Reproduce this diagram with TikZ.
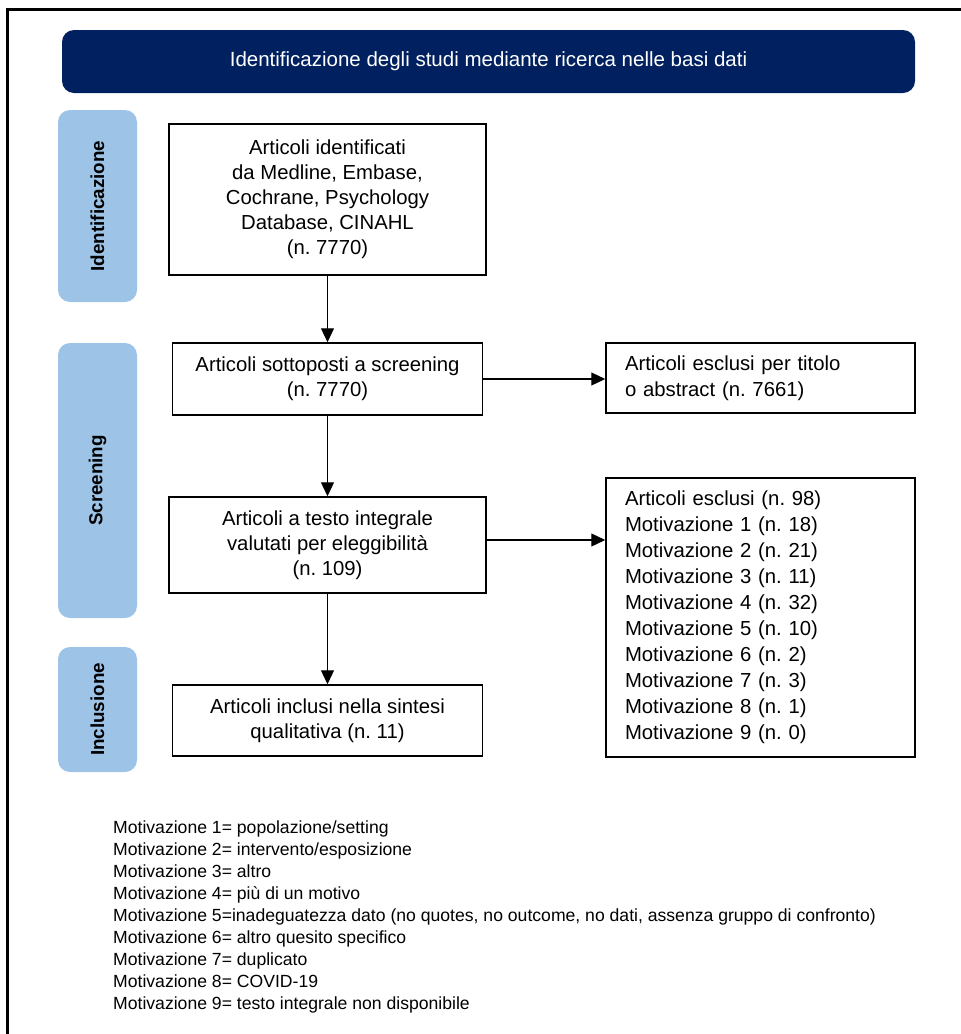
\documentclass[tikz,border=0pt]{standalone}
\usepackage{fontspec}
\setmainfont{Liberation Sans}
\usetikzlibrary{arrows.meta}
\definecolor{navy}{HTML}{002060}
\definecolor{tabblue}{HTML}{9DC3E6}
\frenchspacing
\begin{document}
\begin{tikzpicture}[x=1pt,y=-1pt,
  flowbox/.style={draw=black, line width=1.5pt, inner sep=0pt, align=center,
    font=\fontsize{20.3}{25}\selectfont},
  sidebox/.style={draw=black, line width=1.5pt, inner ysep=0pt, inner xsep=19pt,
    text width=271pt, align=left},
  tabbox/.style={fill=tabblue, rounded corners=12pt, minimum width=79pt, inner sep=0pt},
  tablabel/.style={rotate=90, font=\bfseries\fontsize{18.8}{22}\selectfont},
  arr/.style={-{Triangle[length=14pt,width=13pt]}, line width=1.2pt}
]
\useasboundingbox (0,0) rectangle (961,1034);
% outer frame (only left and top edges visible)
\draw[line width=2.4pt] (7.5,1040) -- (7.5,9.5) -- (970,9.5);

% header
\node[fill=navy, rounded corners=12pt, minimum width=853pt, minimum height=63pt,
  inner sep=0pt, text=white, font=\fontsize{20.5}{22}\selectfont] (head) at (488.5,61.5)
  {Identificazione degli studi mediante ricerca nelle basi dati};

% side tabs
\node[tabbox, minimum height=192pt] (tabI) at (97.5,206) {};
\node[tablabel] (labI) at (tabI) {Identificazione};
\node[tabbox, minimum height=275pt] (tabS) at (97.5,480.5) {};
\node[tablabel] (labS) at (tabS) {Screening};
\node[tabbox, minimum height=125pt] (tabN) at (97.5,709.5) {};
\node[tablabel] (labN) at (tabN) {Inclusione};

% main boxes
\node[flowbox, minimum width=317pt, minimum height=151pt] (b1) at (327.5,199.5)
  {Articoli identificati\\da Medline, Embase,\\Cochrane, Psychology\\Database, CINAHL\\(n. 7770)};
\node[flowbox, minimum width=310pt, minimum height=72pt] (b2) at (327.5,379)
  {Articoli sottoposti a screening\\(n. 7770)};
\node[flowbox, minimum width=317pt, minimum height=96pt] (b3) at (327.5,545)
  {Articoli a testo integrale\\valutati per eleggibilità\\(n. 109)};
\node[flowbox, minimum width=310pt, minimum height=71pt] (b4) at (327.5,720.5)
  {Articoli inclusi nella sintesi\\qualitativa (n. 11)};

% exclusion boxes
\node[sidebox, minimum height=70pt, font=\fontsize{20.3}{26}\selectfont] (r1) at (760.5,378)
  {Articoli esclusi per titolo\\o abstract (n. 7661)};
\node[sidebox, minimum height=279pt, font=\fontsize{20.3}{26}\selectfont] (r2) at (760.5,617.5)
  {Articoli esclusi (n. 98)\\Motivazione 1 (n. 18)\\Motivazione 2 (n. 21)\\Motivazione 3 (n. 11)\\Motivazione 4 (n. 32)\\Motivazione 5 (n. 10)\\Motivazione 6 (n. 2)\\Motivazione 7 (n. 3)\\Motivazione 8 (n. 1)\\Motivazione 9 (n. 0)};

% connectors
\draw[arr] (b1.south) -- (b2.north);
\draw[arr] (b2.south) -- (b3.north);
\draw[arr] (b3.south) -- (b4.north);
\draw[arr] (b2.east) -- (b2.east -| r1.west);
\draw[arr] ([yshift=5pt]b3.east) -- ([yshift=5pt]b3.east -| r2.west);

% legend
\node[anchor=north west, inner sep=0pt, align=left, font=\fontsize{17.6}{21.9}\selectfont] (legend) at (113,821)
  {Motivazione 1= popolazione/setting\\
   Motivazione 2= intervento/esposizione\\
   Motivazione 3= altro\\
   Motivazione 4= più di un motivo\\
   Motivazione 5=inadeguatezza dato (no quotes, no outcome, no dati, assenza gruppo di confronto)\\
   Motivazione 6= altro quesito specifico\\
   Motivazione 7= duplicato\\
   Motivazione 8= COVID-19\\
   Motivazione 9= testo integrale non disponibile};
\end{tikzpicture}
\end{document}
